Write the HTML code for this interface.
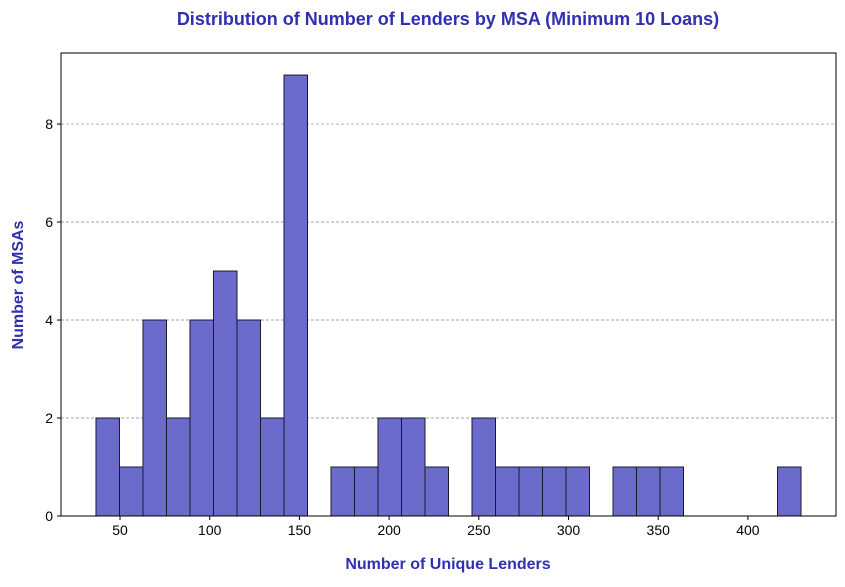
<!DOCTYPE html>
<html><head><meta charset="utf-8"><style>
body{margin:0;background:#fff;font-family:"Liberation Sans",Arial,sans-serif;}
svg text{font-family:"Liberation Sans",Arial,sans-serif;}
</style></head><body>
<svg id="chart" width="845" height="582" xmlns="http://www.w3.org/2000/svg">
<rect width="845" height="582" fill="#fff"/>
<text x="448" y="25" text-anchor="middle" font-size="18" font-weight="bold" fill="#3030b0">Distribution of Number of Lenders by MSA (Minimum 10 Loans)</text>
<text x="448" y="569" text-anchor="middle" font-size="16" font-weight="bold" fill="#3030b0">Number of Unique Lenders</text>
<text transform="translate(23,285) rotate(-90)" text-anchor="middle" font-size="16" font-weight="bold" fill="#3030b0">Number of MSAs</text>
<g id="grid"></g><g id="bars"></g><g id="axes"></g>
</svg>
<script>
const binStart = 36.6;
const binWidth = 13.1;
const counts = [2,1,4,2,4,5,4,2,9,0,1,1,2,2,1,0,2,1,1,1,1,0,1,1,1,0,0,0,0,1];
const xTicks = [50,100,150,200,250,300,350,400];
const yTicks = [0,2,4,6,8];
const L=61,R=836,T=53,B=516,xMin=17.1,xMax=449.1,yMax=9.45;
const sx=v=>L+(v-xMin)/(xMax-xMin)*(R-L);
const sy=v=>B-v/yMax*(B-T);
const NS="http://www.w3.org/2000/svg";
function mk(tag,attrs,parent){const e=document.createElementNS(NS,tag);for(const k in attrs)e.setAttribute(k,attrs[k]);document.getElementById(parent).appendChild(e);return e;}
yTicks.forEach(t=>{if(t===0)return;
 const g=mk('line',{x1:L,x2:R,y1:sy(t),y2:sy(t),stroke:'#888','stroke-width':0.7,'stroke-dasharray':'3,2'},'grid');
 
 });
counts.forEach((c,i)=>{if(c===0)return;
 const x0=sx(binStart+i*binWidth),x1=sx(binStart+(i+1)*binWidth);
 const r=mk('rect',{x:x0,y:sy(c),width:x1-x0,height:sy(0)-sy(c),fill:'#6b6bcc',stroke:'#1a1a2e','stroke-width':1},'bars');
 
 });
const frame=mk('rect',{x:L,y:T,width:R-L,height:B-T,fill:'none',stroke:'#000','stroke-width':1},'axes');


xTicks.forEach(t=>{const x=sx(t);
 mk('line',{x1:x,x2:x,y1:B,y2:B+4,stroke:'#000'},'axes');
 const tx=mk('text',{x:x,y:B+19,'text-anchor':'middle','font-size':14,fill:'#000'},'axes');
 tx.textContent=t;
 
 });
yTicks.forEach(t=>{const y=sy(t);
 mk('line',{x1:L-4,x2:L,y1:y,y2:y,stroke:'#000'},'axes');
 const tx=mk('text',{x:L-8,y:y+5,'text-anchor':'end','font-size':14,fill:'#000'},'axes');
 tx.textContent=t;
 
 });
</script>
</body></html>
